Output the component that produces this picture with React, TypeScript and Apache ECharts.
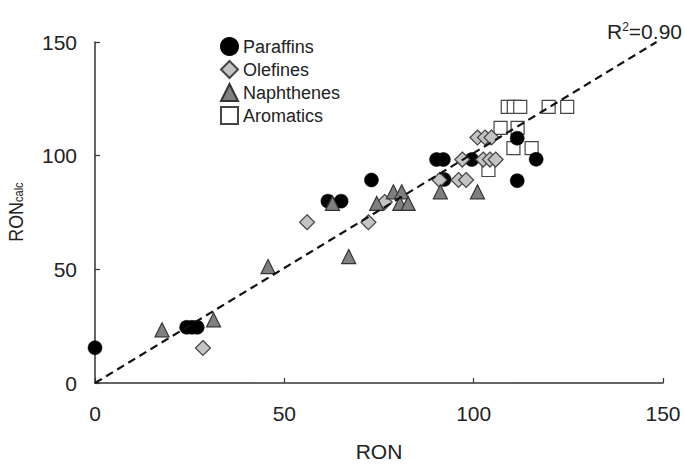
import React, { useEffect, useRef } from 'react';
import * as echarts from 'echarts';

const FONT = '"Liberation Sans", Arial, sans-serif';

const seriesNames = ['Paraffins', 'Olefines', 'Naphthenes', 'Aromatics'];
const xTicks = { min: 0, max: 150, interval: 50 };
const yTicks = { min: 0, max: 150, interval: 50 };

const paraffins = [
  [0, 15.5], [24.2, 24.5], [25.6, 24.5], [27, 24.5], [61.5, 80], [65, 80],
  [73, 89.3], [90.2, 98.3], [92, 98.3], [92.2, 89.5], [99.5, 98.3],
  [111.5, 107.7], [116.5, 98.4], [111.5, 89],
];
const olefines = [
  [28.5, 15.4], [56, 70.7], [72.2, 70.7], [76.5, 79.6], [91, 89.3], [96, 89.3],
  [98, 89.3], [97, 98.3], [102.5, 98.3], [104.3, 98.3], [105.8, 98.3],
  [101, 108], [103, 108], [104.7, 108],
];
const naphthenes = [
  [17.7, 23.4], [31.3, 27.8], [45.7, 51.2], [62.7, 79], [67, 55.6], [74.4, 79],
  [78.8, 84.1], [81, 84.1], [80.5, 79], [82.7, 79], [91.2, 84.1], [101, 84.1],
];
const aromatics = [
  [109, 121.5], [110.6, 121.5], [112.3, 121.5], [119.8, 121.5], [124.7, 121.5],
  [107.1, 112.2], [111.6, 112.2], [110.5, 103.3], [115.3, 103.3], [103.9, 93.7],
];
const fitLine = [[0, 0], [148.3, 150]];
const r2Label = '0.90';

function buildOption() {
  const axisCommon = {
    type: 'value' as const,
    axisLine: { show: true, onZero: false, lineStyle: { color: '#333', width: 1.5 } },
    axisTick: { show: true, inside: true, length: 5, lineStyle: { color: '#333', width: 1.2 } },
    axisLabel: { fontSize: 21, color: '#222', fontFamily: FONT },
    splitLine: { show: false },
  };
  const scatterBase = { type: 'scatter' as const, symbolSize: 14 };
  return {
    animation: false,
    textStyle: { fontFamily: FONT },
    grid: { left: 95, right: 21, top: 42, bottom: 81, containLabel: false, outerBoundsMode: 'none' },
    xAxis: {
      ...axisCommon,
      ...xTicks,
      axisLabel: { ...axisCommon.axisLabel, margin: 20 },
      name: 'RON',
      nameLocation: 'middle',
      nameGap: 58,
      nameTextStyle: { fontSize: 21, color: '#222', fontFamily: FONT },
    },
    yAxis: {
      ...axisCommon,
      ...yTicks,
      axisLabel: { ...axisCommon.axisLabel, margin: 18 },
    },
    legend: {
      data: seriesNames,
      orient: 'vertical',
      left: 215,
      top: 32,
      itemWidth: 17,
      itemHeight: 17,
      itemGap: 4,
      textStyle: { fontSize: 18, color: '#222', fontFamily: FONT },
    },
    graphic: [
      {
        type: 'text',
        x: 15,
        y: 212,
        rotation: Math.PI / 2,
        scaleX: 0.85,
        style: {
          text: '{a|RON}{b|calc}',
          align: 'center',
          verticalAlign: 'middle',
          rich: {
            a: { fontSize: 21, fontFamily: FONT, fill: '#222' },
            b: { fontSize: 13, fontFamily: FONT, fill: '#222', verticalAlign: 'bottom' },
          },
        },
      },
      {
        type: 'text',
        x: 682,
        y: 31,
        style: {
          text: '{a|R}{s|2}{a|=' + r2Label + '}',
          align: 'right',
          verticalAlign: 'middle',
          rich: {
            a: { fontSize: 21, fontFamily: FONT, fill: '#222' },
            s: { fontSize: 12, fontFamily: FONT, fill: '#222', verticalAlign: 'top' },
          },
        },
      },
    ],
    series: [
      {
        ...scatterBase,
        name: 'Aromatics',
        symbol: 'rect',
        symbolSize: 13,
        data: aromatics,
        itemStyle: { color: '#ffffff', borderColor: '#444', borderWidth: 1.2, opacity: 1 },
        z: 2,
      },
      {
        ...scatterBase,
        name: 'Paraffins',
        symbol: 'circle',
        data: paraffins,
        itemStyle: { color: '#000000', borderColor: '#000', borderWidth: 0.5, opacity: 1 },
        z: 3,
      },
      {
        ...scatterBase,
        name: 'Olefines',
        symbol: 'diamond',
        symbolSize: 15,
        data: olefines,
        itemStyle: { color: '#c4c4c4', borderColor: '#444', borderWidth: 1.2, opacity: 1 },
        z: 4,
      },
      {
        ...scatterBase,
        name: 'Naphthenes',
        symbol: 'triangle',
        data: naphthenes,
        itemStyle: { color: '#808080', borderColor: '#333', borderWidth: 1.2, opacity: 1 },
        z: 5,
      },
      {
        type: 'line',
        name: 'fit',
        data: fitLine,
        symbol: 'none',
        silent: true,
        lineStyle: { color: '#111', width: 2.2, type: [8, 5] },
        z: 6,
      },
    ],
  };
}

export default function App() {
  const ref = useRef<HTMLDivElement>(null);
  useEffect(() => {
    document.body.style.margin = '0';
    const chart = echarts.init(ref.current!, null, { renderer: 'svg' });
    chart.setOption(buildOption() as any);
    return () => chart.dispose();
  }, []);
  return (
    <div
      ref={ref}
      style={{ width: 684, height: 464, position: 'absolute', left: 0, top: 0, background: '#fff' }}
    />
  );
}
